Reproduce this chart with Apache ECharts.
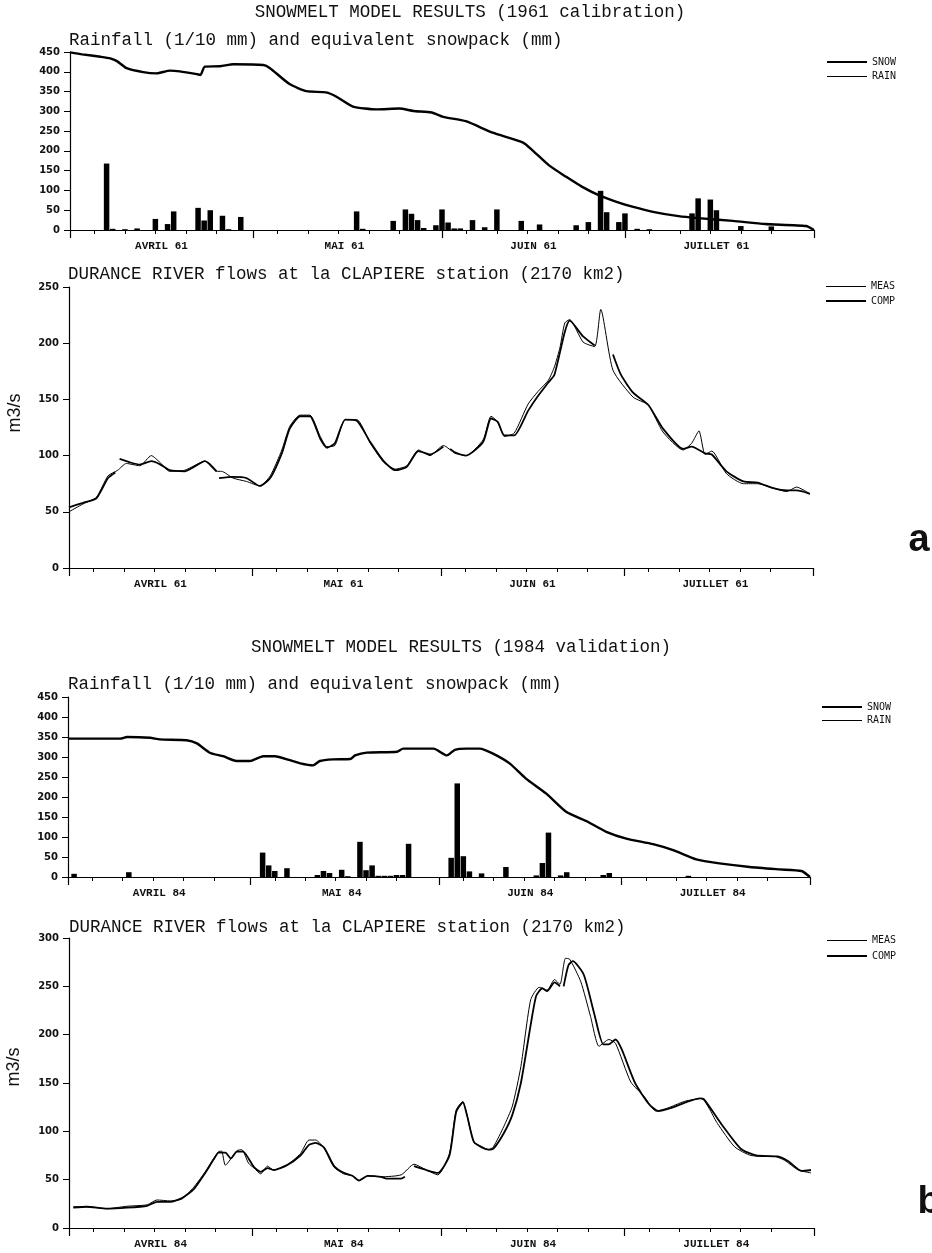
<!DOCTYPE html>
<html>
<head>
<meta charset="utf-8">
<title>Snowmelt model results</title>
<script src="https://cdn.jsdelivr.net/npm/echarts@6.0.0/dist/echarts.min.js"></script>
<style>
  html, body { margin: 0; padding: 0; background: #fff; }
  #chart { width: 932px; height: 1253px; }
</style>
</head>
<body>
<div id="chart"></div>
<script>
// x = day index, 0 = 1 April, 122 = 1 August
const monthStarts = [0, 30, 61, 91, 122];
const minorDays = [4, 9, 14, 19, 24, 34, 39, 44, 49, 54, 65, 70, 75, 80, 85, 95, 100, 105, 110, 115];
const monthMids = [15, 45, 76, 106];
const monthNames = ['AVRIL', 'MAI', 'JUIN', 'JUILLET'];

// 1961 calibration
const snow61 = [[0,449],[2,444],[5,438],[6.6,434],[7.7,427],[9.3,409],[12,399],[14.2,396],[16.4,403],[18,401],[20.8,394],[21.4,392],[22.1,413],[24.6,414],[26.8,419],[31.7,417],[32.8,409],[36,369],[38.8,351],[42,348],[43.7,337],[46.4,312],[50.3,305],[54,307],[56.3,301],[59.3,297],[61.2,286],[64.9,275],[69.3,246],[74.3,221],[75.8,202],[78.5,164],[81.3,135],[84,109],[86.7,88],[89.5,72],[92.2,59],[95.6,46],[99.8,35],[103,30],[108.7,23],[114,15],[120.7,10],[122,0]];
const rain61 = [[6,168],[7,3],[9,2],[11,4],[14,28],[16,15],[17,47],[21,56],[22,24],[23,50],[25,36],[26,2],[28,33],[47,47],[48,3],[53,23],[55,52],[56,41],[57,25],[58,5],[60,12],[61,52],[62,19],[63,4],[64,4],[66,25],[68,7],[70,52],[74,23],[77,14],[83,12],[85,20],[87,99],[88,45],[90,20],[91,42],[93,3],[95,2],[102,42],[103,80],[105,77],[106,50],[110,10],[115,9]];
const meas61 = [[0,50],[2.3,57],[4.5,63],[6.4,82],[8,87],[9.4,93],[11.6,91],[13.5,100],[14.9,94],[16.5,86],[19,87],[22.3,95],[24.2,86],[25,86],[26.9,80],[29.1,77],[31.3,73],[33,82],[34.9,105],[36.2,126],[37.9,136],[39.5,136],[41.2,117],[42.3,108],[43.6,109],[45.3,132],[47.2,132],[49.4,111],[51.6,94],[53.5,88],[55.4,91],[57.3,105],[59.2,100],[61.4,109],[63.3,102],[65.1,100],[67.9,114],[69.2,135],[70.3,130],[71.4,117],[73,120],[75.3,146],[76.9,157],[78.6,167],[79.6,179],[80.5,196],[81.3,218],[82.1,221],[84.3,201],[86.2,197],[87.2,230],[89.2,176],[92.5,152],[95,145],[97.4,121],[100.7,105],[102.1,111],[103.3,122],[104.3,101],[105.4,104],[107.8,84],[110.6,75],[112.9,75],[115.5,71],[117.7,68],[119.3,72],[121.5,66]];
const comp61 = [[0,54],[2.3,58],[4.5,62],[6.4,80],[7.6,85],null,[8.3,97],[10,94],[11.6,92],[13.5,95],[15,92],[16.5,87],[19,86],[22.3,95],[24.2,86],null,[24.6,80],[26.9,81],[29.1,80],[31.3,73],[33,80],[34.9,102],[36.2,124],[37.9,135],[39.5,135],[41.2,115],[42.3,107],[43.6,111],[45.3,132],[47.2,131],[49.4,112],[51.6,95],[53.5,87],[55.4,90],[57.3,104],[59.2,101],[61.4,108],null,[62.5,106],[63.3,103],[65.1,100],[67.9,112],[69.2,133],[70.3,130],[71.4,118],[73,118],[75.3,140],[76.9,153],[78.6,165],[79.6,172],[81.3,210],[82.1,220],[84.3,206],[86.2,198],null,[89.2,190],[90.5,172],[92.5,156],[95,145],[97.4,124],[100.7,106],[102.1,108],[104.3,102],[105.4,101],[107.8,86],[110.6,77],[112.9,76],[115.5,71],[117.7,69],[119.3,69],[121.5,66]];

// 1984 validation
const snow84 = [[0,346],[8.6,346],[9.7,350],[13.5,348],[15.1,344],[19.5,342],[21.2,334],[23.4,310],[25.5,302],[27.7,290],[29.9,290],[32.1,302],[34,302],[36.5,292],[38.2,284],[40.3,279],[41.4,290],[43.6,294],[46.4,295],[47.2,304],[49.1,311],[54.1,313],[55.1,321],[60.1,321],[62.3,304],[63.6,318],[65.5,321],[67.7,321],[69.8,309],[72.6,284],[75.3,246],[78.6,209],[81.9,163],[85.2,140],[88.5,113],[91.8,96],[96.2,82],[99.5,67],[103.3,44],[107.1,34],[112.1,25],[117,19],[120.6,15],[122,0]];
const rain84 = [[1,8],[10,12],[32,61],[33,29],[34,15],[36,22],[41,5],[42,15],[43,10],[45,18],[46,2],[48,88],[49,17],[50,29],[51,3],[52,3],[53,3],[54,5],[55,5],[56,83],[63,48],[64,234],[65,52],[66,14],[68,9],[72,25],[77,4],[78,35],[79,111],[81,4],[82,12],[88,5],[89,10],[102,3]];
const meas84 = [[0.7,22],[2.9,22],[6.2,20],[9.5,22.5],[12.8,24],[14.4,29],[16.6,28],[18.5,30],[20.4,42],[22.3,58],[23.7,72],[24.5,79],[25,79.5],[25.6,65],[27.5,80],[28.3,81],[29.4,67],[30.3,62],[31.4,56],[32.5,64],[33.5,60],[35.7,65],[37.9,77],[39.3,91],[40.4,91],[41.8,82],[43.4,63],[45,56],[46.4,54],[47.5,49],[48.9,54],[51.1,53],[54.4,55],[56.5,66],[58.5,60],[60.4,55],[62.3,77],[63.4,122],[64.5,131],[65.2,116],[66.3,89],[67.7,84],[68.7,81],[69.5,84],[71.2,105],[72.6,126],[74,167],[75.6,236],[77,249],[78.3,246],[79.5,257],[80.4,252],[81.3,279],[82,278],[83.8,255],[85.4,219],[86.8,188],[88.4,195],[89.5,191],[92,151],[94.2,136],[96.1,121],[98,124],[100.8,131],[103.5,134],[106.2,108],[109,84],[111.7,75],[115.6,74],[117.2,70],[119.4,60],[121.5,57]];
const comp84 = [[0.7,21],[2.9,22],[6.2,20],[9.5,21],[12.8,23],[14.4,27],[16.6,27],[18.5,31],[20.4,40],[22.3,57],[23.7,71],[24.5,78],[25.6,78],[26.5,72],[27.5,79],[28.5,79],[29.4,72],[30.3,63],[31.4,58],[32.5,62],[33.5,60],[35.7,65],[37.9,75],[39.3,86],[40.4,88],[41.8,83],[43.4,64],[45,57],[46.4,54],[47.5,49],[48.9,54],[51.1,53],[52,51],[54.4,51],[55,53],null,[56.5,64],[58.5,60],[60.4,57],[62.3,75],[63.4,120],[64.5,130],[65.2,116],[66.3,89],[67.7,83],[68.7,81],[69.5,82],[71.2,98],[72.6,117],[74,150],[75.6,210],[76.5,240],[77.5,248],[78.3,245],[79.5,254],[80.4,250],null,[81,250],[81.8,272],[82.5,276],[84.3,262],[86,222],[87.5,190],[88.4,190],[89.5,195],[90.5,185],[92.7,150],[95,128],[96.5,121],[98.5,124],[101,130],[103.3,134],[104,133],[107,106],[110,82],[112.5,75],[116,74],[117.8,69],[120,59],[121.5,60]];

const mono = '"Liberation Mono", "DejaVu Sans Mono", monospace';
const sans = '"Liberation Sans", "DejaVu Sans", sans-serif';
const black = '#000';

function dayAxes(gridIndex, year) {
  return [
    {
      type: 'value', gridIndex: gridIndex, min: 0, max: 122, position: 'bottom',
      axisLine: { show: true, lineStyle: { color: black, width: 1.2 } },
      axisTick: { show: true, customValues: monthStarts, length: 8, lineStyle: { color: black, width: 1.2 } },
      axisLabel: {
        customValues: monthMids, margin: 11,
        formatter: function (v) { return monthNames[monthMids.indexOf(v)] + ' ' + year; },
        fontFamily: mono, fontWeight: 'bold', fontSize: 11, color: '#111'
      },
      splitLine: { show: false }
    },
    {
      type: 'value', gridIndex: gridIndex, min: 0, max: 122, position: 'bottom',
      axisLine: { show: false },
      axisTick: { show: true, customValues: minorDays, length: 4, lineStyle: { color: black, width: 1 } },
      axisLabel: { show: false },
      splitLine: { show: false }
    }
  ];
}

function valueAxis(gridIndex, max) {
  return {
    type: 'value', gridIndex: gridIndex, min: 0, max: max, interval: 50,
    axisLine: { show: true, lineStyle: { color: black, width: 1.2 } },
    axisTick: { show: true, inside: false, length: 6, lineStyle: { color: black } },
    axisLabel: { margin: 10, fontFamily: '"DejaVu Sans", sans-serif', fontWeight: 'bold', fontSize: 10, color: '#111' },
    splitLine: { show: false }
  };
}

// thin icons sit on a whole pixel row when the row is 13 px high, thick ones when it is 12 px
function legendItem(name, top, left, thick) {
  return {
    data: [name], left: left, top: top, padding: 0, itemWidth: 40, itemHeight: thick ? 2 : 1,
    icon: 'rect', selectedMode: false,
    itemStyle: { color: black },
    textStyle: { fontFamily: '"DejaVu Sans Mono", monospace', fontSize: 10, color: '#111', lineHeight: thick ? 12 : 13 }
  };
}

function label(text, x, y, align, size) {
  return {
    type: 'text', x: x, y: y,
    style: {
      text: text, font: size + 'px ' + mono, fill: '#111',
      textAlign: align, textVerticalAlign: 'middle', align: align, verticalAlign: 'middle'
    }
  };
}

function sideText(text, x, y, rotation, font) {
  return {
    type: 'text', x: x, y: y, rotation: rotation,
    style: {
      text: text, font: font, fill: '#111',
      textAlign: 'center', textVerticalAlign: 'middle', align: 'center', verticalAlign: 'middle'
    }
  };
}

const chart = echarts.init(document.getElementById('chart'), null, { renderer: 'canvas' });

const option = {
  animation: false,
  backgroundColor: '#fff',
  grid: [
    { left: 70, top: 52, width: 744, height: 178 },
    { left: 69, top: 287, width: 744, height: 281 },
    { left: 68, top: 697, width: 742, height: 180 },
    { left: 69, top: 938, width: 745, height: 290 }
  ],
  xAxis: [].concat(dayAxes(0, '61'), dayAxes(1, '61'), dayAxes(2, '84'), dayAxes(3, '84')),
  yAxis: [valueAxis(0, 450), valueAxis(1, 250), valueAxis(2, 450), valueAxis(3, 300)],
  legend: [
    legendItem('SNOW', 56, 827, true),
    legendItem('RAIN', 70, 827, false),
    legendItem('MEAS', 280, 826, false),
    legendItem('COMP', 295, 826, true),
    legendItem('SNOW', 701, 822, true),
    legendItem('RAIN', 714, 822, false),
    legendItem('MEAS', 934, 827, false),
    legendItem('COMP', 950, 827, true)
  ],
  graphic: [
    label('SNOWMELT MODEL RESULTS (1961 calibration)', 470, 12, 'center', 17.5),
    label('Rainfall (1/10 mm) and equivalent snowpack (mm)', 69, 40, 'left', 17.5),
    label('DURANCE RIVER flows at la CLAPIERE station (2170 km2)', 68, 274, 'left', 17.5),
    label('SNOWMELT MODEL RESULTS (1984 validation)', 461, 647, 'center', 17.5),
    label('Rainfall (1/10 mm) and equivalent snowpack (mm)', 68, 684, 'left', 17.5),
    label('DURANCE RIVER flows at la CLAPIERE station (2170 km2)', 69, 927, 'left', 17.5),
    sideText('m3/s', 15, 413, Math.PI / 2, '18px ' + sans),
    sideText('m3/s', 14, 1067, Math.PI / 2, '18px ' + sans),
    sideText('a', 919, 541, 0, 'bold 38px ' + sans),
    sideText('b', 929, 1203, 0, 'bold 38px ' + sans)
  ],
  series: [
    {
      name: 'SNOW', type: 'line', xAxisIndex: 0, yAxisIndex: 0, data: snow61,
      showSymbol: false, smooth: 0.2, z: 3,
      lineStyle: { color: black, width: 2.4 }, itemStyle: { color: black }
    },
    {
      name: 'RAIN', type: 'bar', xAxisIndex: 0, yAxisIndex: 0, data: rain61,
      barWidth: 5.5, itemStyle: { color: black }
    },
    {
      name: 'MEAS', type: 'line', xAxisIndex: 2, yAxisIndex: 1, data: meas61,
      showSymbol: false, smooth: 0.2,
      lineStyle: { color: black, width: 1 }, itemStyle: { color: black }
    },
    {
      name: 'COMP', type: 'line', xAxisIndex: 2, yAxisIndex: 1, data: comp61,
      showSymbol: false, smooth: 0.2, connectNulls: false,
      lineStyle: { color: black, width: 1.8 }, itemStyle: { color: black }
    },
    {
      name: 'SNOW', type: 'line', xAxisIndex: 4, yAxisIndex: 2, data: snow84,
      showSymbol: false, smooth: 0.2, z: 3,
      lineStyle: { color: black, width: 2.4 }, itemStyle: { color: black }
    },
    {
      name: 'RAIN', type: 'bar', xAxisIndex: 4, yAxisIndex: 2, data: rain84,
      barWidth: 5.5, itemStyle: { color: black }
    },
    {
      name: 'MEAS', type: 'line', xAxisIndex: 6, yAxisIndex: 3, data: meas84,
      showSymbol: false, smooth: 0.2,
      lineStyle: { color: black, width: 1 }, itemStyle: { color: black }
    },
    {
      name: 'COMP', type: 'line', xAxisIndex: 6, yAxisIndex: 3, data: comp84,
      showSymbol: false, smooth: 0.2, connectNulls: false,
      lineStyle: { color: black, width: 1.8 }, itemStyle: { color: black }
    }
  ]
};

chart.setOption(option);
</script>
</body>
</html>
